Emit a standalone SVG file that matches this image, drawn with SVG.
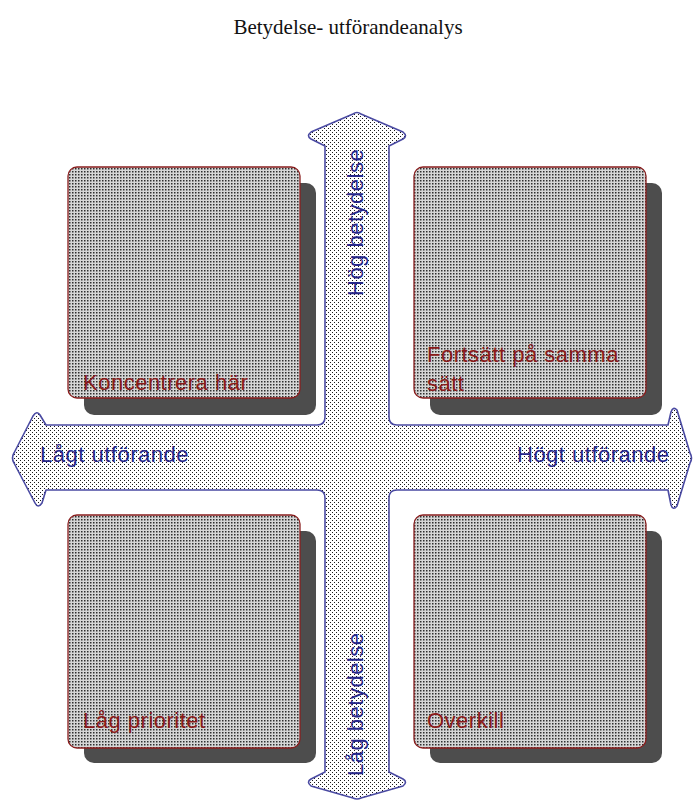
<svg xmlns="http://www.w3.org/2000/svg" width="694" height="800" viewBox="0 0 694 800">
  <defs>
    <!-- sparse dot screen for the axis cross -->
    <pattern id="dots" width="4" height="4" patternUnits="userSpaceOnUse">
      <rect width="4" height="4" fill="#ffffff"/>
      <rect x="0" y="0" width="1" height="1" fill="#1a1a1a"/>
      <rect x="2" y="2" width="1" height="1" fill="#1a1a1a"/>
    </pattern>
    <!-- dense grey screen for the quadrant boxes -->
    <pattern id="screen" width="3" height="3" patternUnits="userSpaceOnUse">
      <rect width="3" height="3" fill="#d6d6d6"/>
      <rect x="0" y="0" width="1.5" height="1.5" fill="#2e2e2e"/>
    </pattern>
    <style>
      .shadow { fill: #4d4d4d; }
      .box { fill: url(#screen); stroke: #8a1e1e; stroke-width: 1.3; }
      .boxtext { font-family: "Liberation Sans", Arial, sans-serif; font-size: 22px; letter-spacing: 0.5px; fill: #8b1a1a; }
      .axis { fill: url(#dots); stroke: #4a4aa2; stroke-width: 1.6; stroke-linejoin: round; }
      .axistext { font-family: "Liberation Sans", Arial, sans-serif; font-size: 22px; letter-spacing: 0.5px; fill: #26268a; }
      .title { font-family: "Liberation Serif", "Times New Roman", serif; font-size: 21px; fill: #111; }
    </style>
  </defs>

  <rect width="694" height="800" fill="#ffffff"/>

  <text class="title" x="348" y="34" text-anchor="middle">Betydelse- utförandeanalys</text>

  <!-- quadrant boxes -->
  <g id="box-koncentrera">
    <rect class="shadow" x="84" y="183" width="232" height="232" rx="10"/>
    <rect class="box" x="68" y="167" width="232" height="231" rx="9"/>
    <text class="boxtext" x="83" y="390">Koncentrera här</text>
  </g>
  <g id="box-fortsatt">
    <rect class="shadow" x="430" y="183" width="232" height="232" rx="10"/>
    <rect class="box" x="414" y="167" width="232" height="231" rx="9"/>
    <text class="boxtext" x="427" y="362">Fortsätt på samma</text>
    <text class="boxtext" x="427" y="391">sätt</text>
  </g>
  <g id="box-lag-prioritet">
    <rect class="shadow" x="84" y="531" width="232" height="232" rx="10"/>
    <rect class="box" x="68" y="515" width="232" height="233" rx="9"/>
    <text class="boxtext" x="83" y="728">Låg prioritet</text>
  </g>
  <g id="box-overkill">
    <rect class="shadow" x="430" y="531" width="232" height="232" rx="10"/>
    <rect class="box" x="414" y="515" width="232" height="233" rx="9"/>
    <text class="boxtext" x="427" y="728">Overkill</text>
  </g>

  <!-- four-headed axis cross -->
  <g id="axes">
    <path class="axis" d="
      M 353,114 Q 357,111 361,114
      L 403,132 Q 408,136 403,139
      L 389,146
      L 389,417 Q 389,425 397,425
      L 668,425
      L 671,412 Q 673,406 677,410
      L 690,453 Q 693,458 690,463
      L 677,506 Q 673,511 671,505
      L 668,490
      L 397,490 Q 389,490 389,498
      L 389,772
      L 403,779 Q 408,782 403,786
      L 361,798 Q 357,800 353,798
      L 311,786 Q 306,782 311,779
      L 325,772
      L 325,498 Q 325,490 317,490
      L 46,490
      L 42,503 Q 38,509 35,503
      L 14,463 Q 11,458 14,453
      L 33,416 Q 37,410 40,415
      L 46,425
      L 317,425 Q 325,425 325,417
      L 325,146
      L 311,139 Q 306,136 311,132
      Z"/>
    <text class="axistext" x="40" y="462">Lågt utförande</text>
    <text class="axistext" x="517" y="462">Högt utförande</text>
    <text class="axistext" transform="translate(363,296) rotate(-90)">Hög betydelse</text>
    <text class="axistext" transform="translate(363,776) rotate(-90)">Låg betydelse</text>
  </g>
</svg>
